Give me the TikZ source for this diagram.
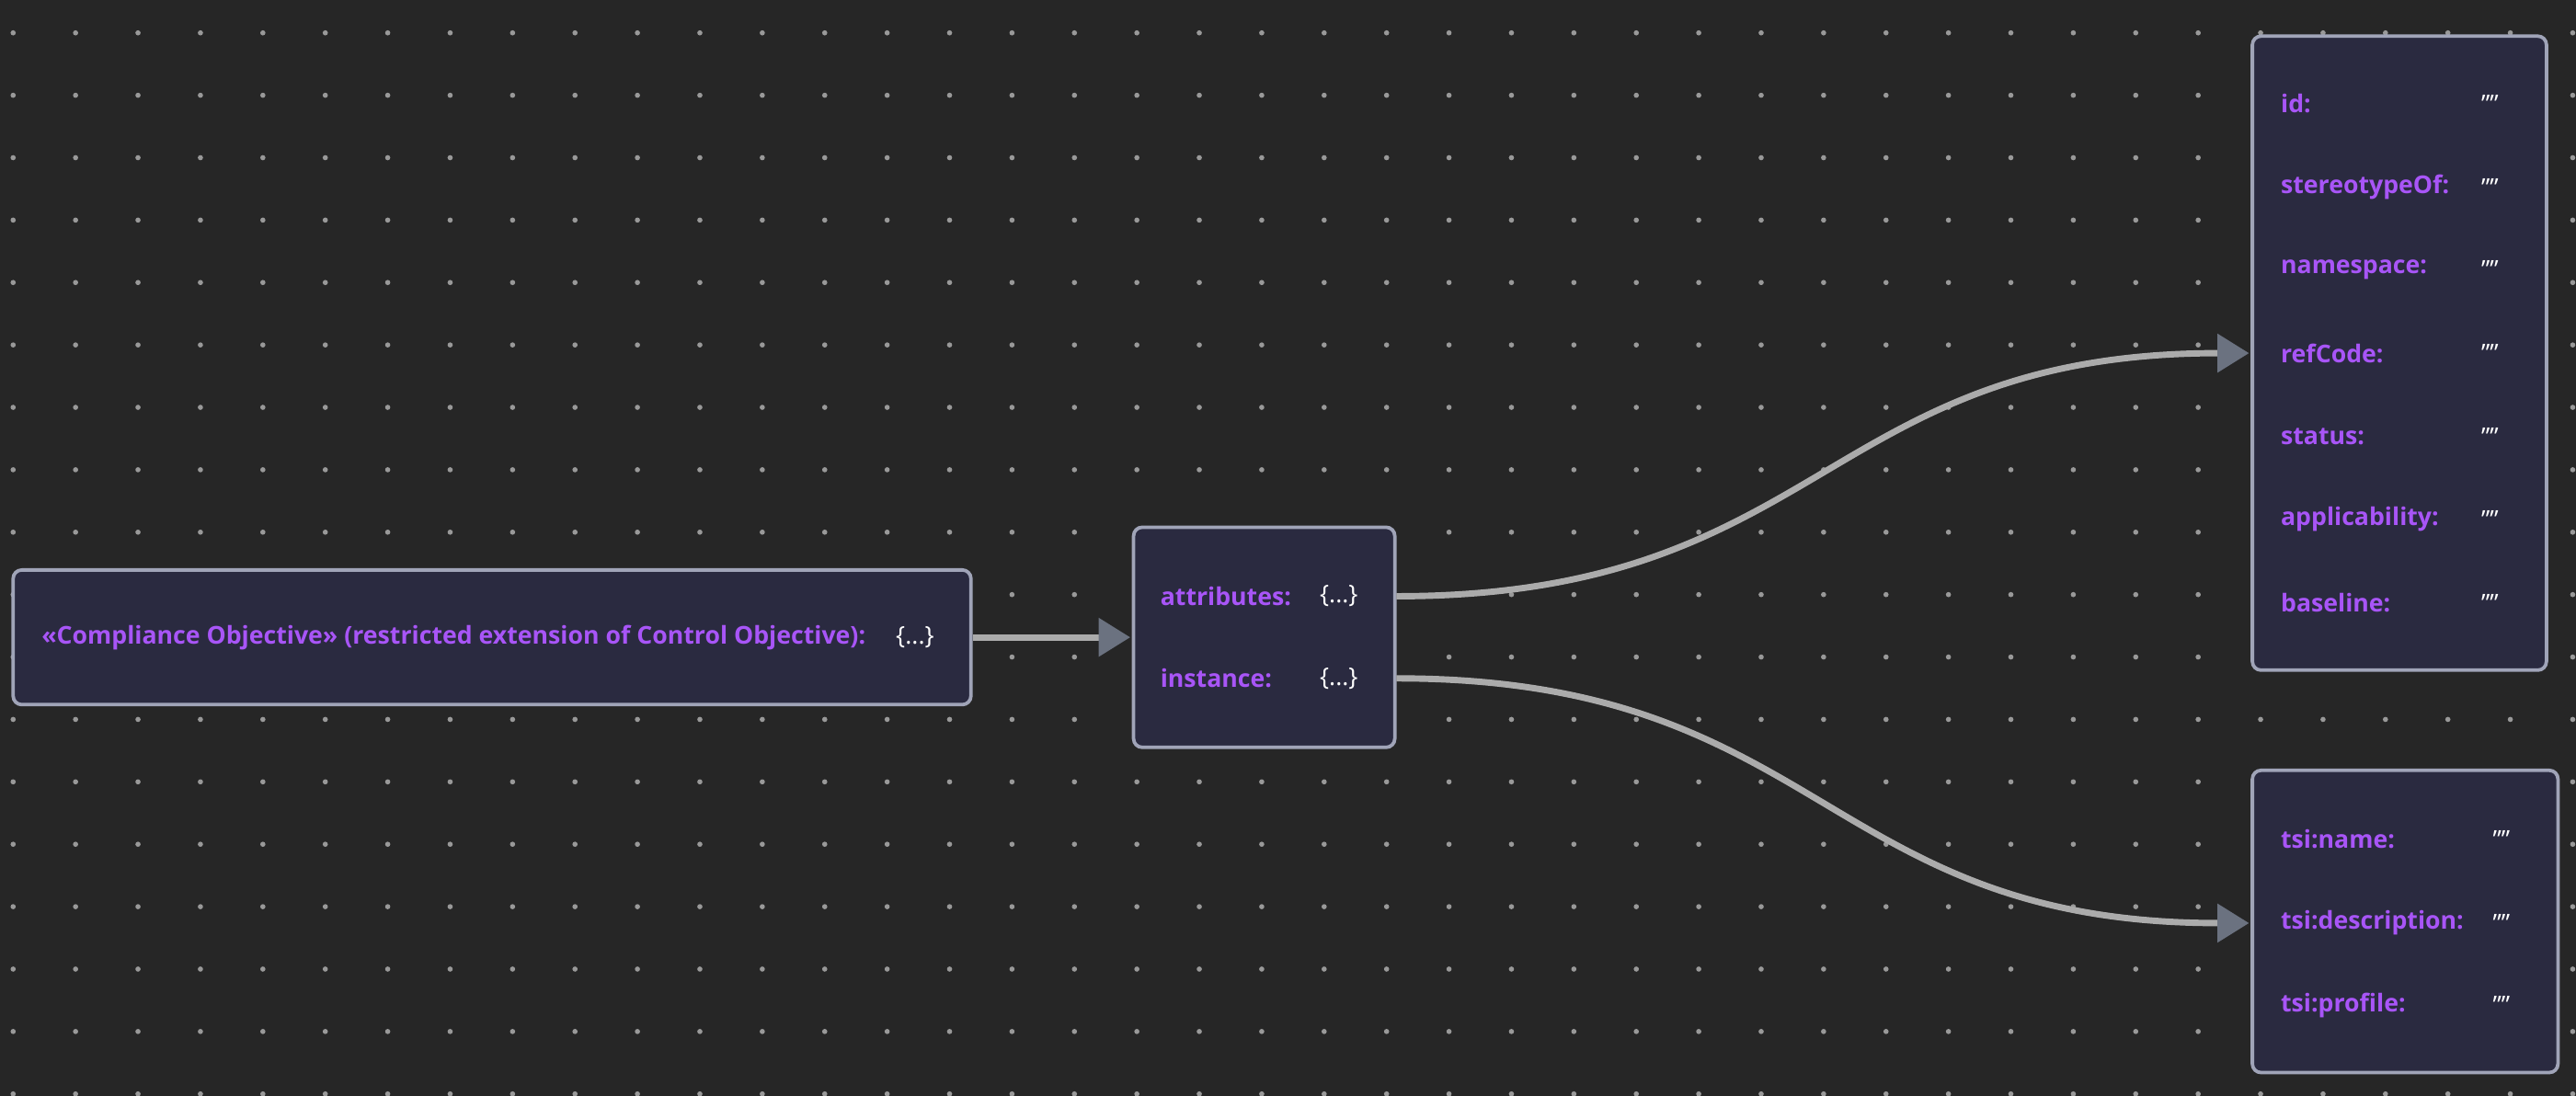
\documentclass[tikz,border=0pt]{standalone}
\usepackage{fontspec}
\setmainfont{Open Sans}
\usetikzlibrary{arrows.meta,positioning}
\definecolor{bgdark}{HTML}{262626}
\definecolor{boxfill}{HTML}{2A2A40}
\definecolor{boxline}{HTML}{A0A4B8}
\definecolor{keypurple}{HTML}{A855F7}
\definecolor{linkgray}{HTML}{ABABAB}
\definecolor{tipgray}{HTML}{6B7280}
\tikzset{
  card/.style={draw=boxline, fill=boxfill, line width=1.2pt, rounded corners=3pt},
  keytxt/.style={anchor=west, text=keypurple, font=\fontsize{8.5}{10}\selectfont\bfseries, inner sep=0pt},
  valtxt/.style={anchor=west, text=white, font=\fontsize{8.5}{10}\selectfont, inner sep=0pt},
  link/.style={draw=linkgray, line width=2.2pt, -{Triangle[length=11pt,width=13pt,fill=tipgray,color=tipgray]}}
}
\begin{document}
\begin{tikzpicture}[x=0.02cm,y=-0.02cm]
  % background
  \fill[bgdark] (0,0) rectangle (1568,667);
  \useasboundingbox (0,0) rectangle (1568,667);

  % dots
  \foreach \i in {0,...,41}
    \foreach \j in {0,...,17}
      \fill[gray!80] (8+38*\i,20+38*\j) circle (0.9pt);

  % boxes
  \draw[card] (8,347) rectangle (591,429);
  \draw[card] (690,321) rectangle (849,455);
  \draw[card] (1371,22) rectangle (1550,408);
  \draw[card] (1371,469) rectangle (1557,653);

  % left box
  \node[keytxt] (obj) at (25,388) {«Compliance Objective» (restricted extension of Control Objective):};
  \node[valtxt] (objv) at (545,388) {\{...\}};
  \coordinate (objout) at (592,388);
  \coordinate (midin) at (688,388);

  % middle box
  \node[keytxt] (attr) at (706,363) {attributes:};
  \node[valtxt] (attrv) at (803,363) {\{...\}};
  \node[keytxt] (inst) at (706,413) {instance:};
  \node[valtxt] (instv) at (803,413) {\{...\}};
  \coordinate (attrout) at (850,363);
  \coordinate (instout) at (850,413);

  % attributes box
  \foreach \k/\y/\n in {id:/63/id, stereotypeOf:/114/st, namespace:/164/ns, refCode:/215/rc, status:/266/sta, applicability:/316/app, baseline:/367/bl}{
    \node[keytxt] (\n) at (1388,\y) {\k};
    \node[valtxt] (\n v) at (1510,\y) {""};
  }
  \coordinate (attrin) at (1369,215);

  % instance box
  \foreach \k/\y/\n in {tsi:name:/511/tn, tsi:description:/562/td, tsi:profile:/612/tp}{
    \node[keytxt] (\n) at (1388,\y) {\k};
    \node[valtxt] (\n v) at (1517,\y) {""};
  }
  \coordinate (instin) at (1369,562);

  % links
  \draw[link] (objout) -- (midin);
  \draw[link] (attrout) .. controls (1110,363) and (1110,215) .. (attrin);
  \draw[link] (instout) .. controls (1110,413) and (1110,562) .. (instin);
\end{tikzpicture}
\end{document}
